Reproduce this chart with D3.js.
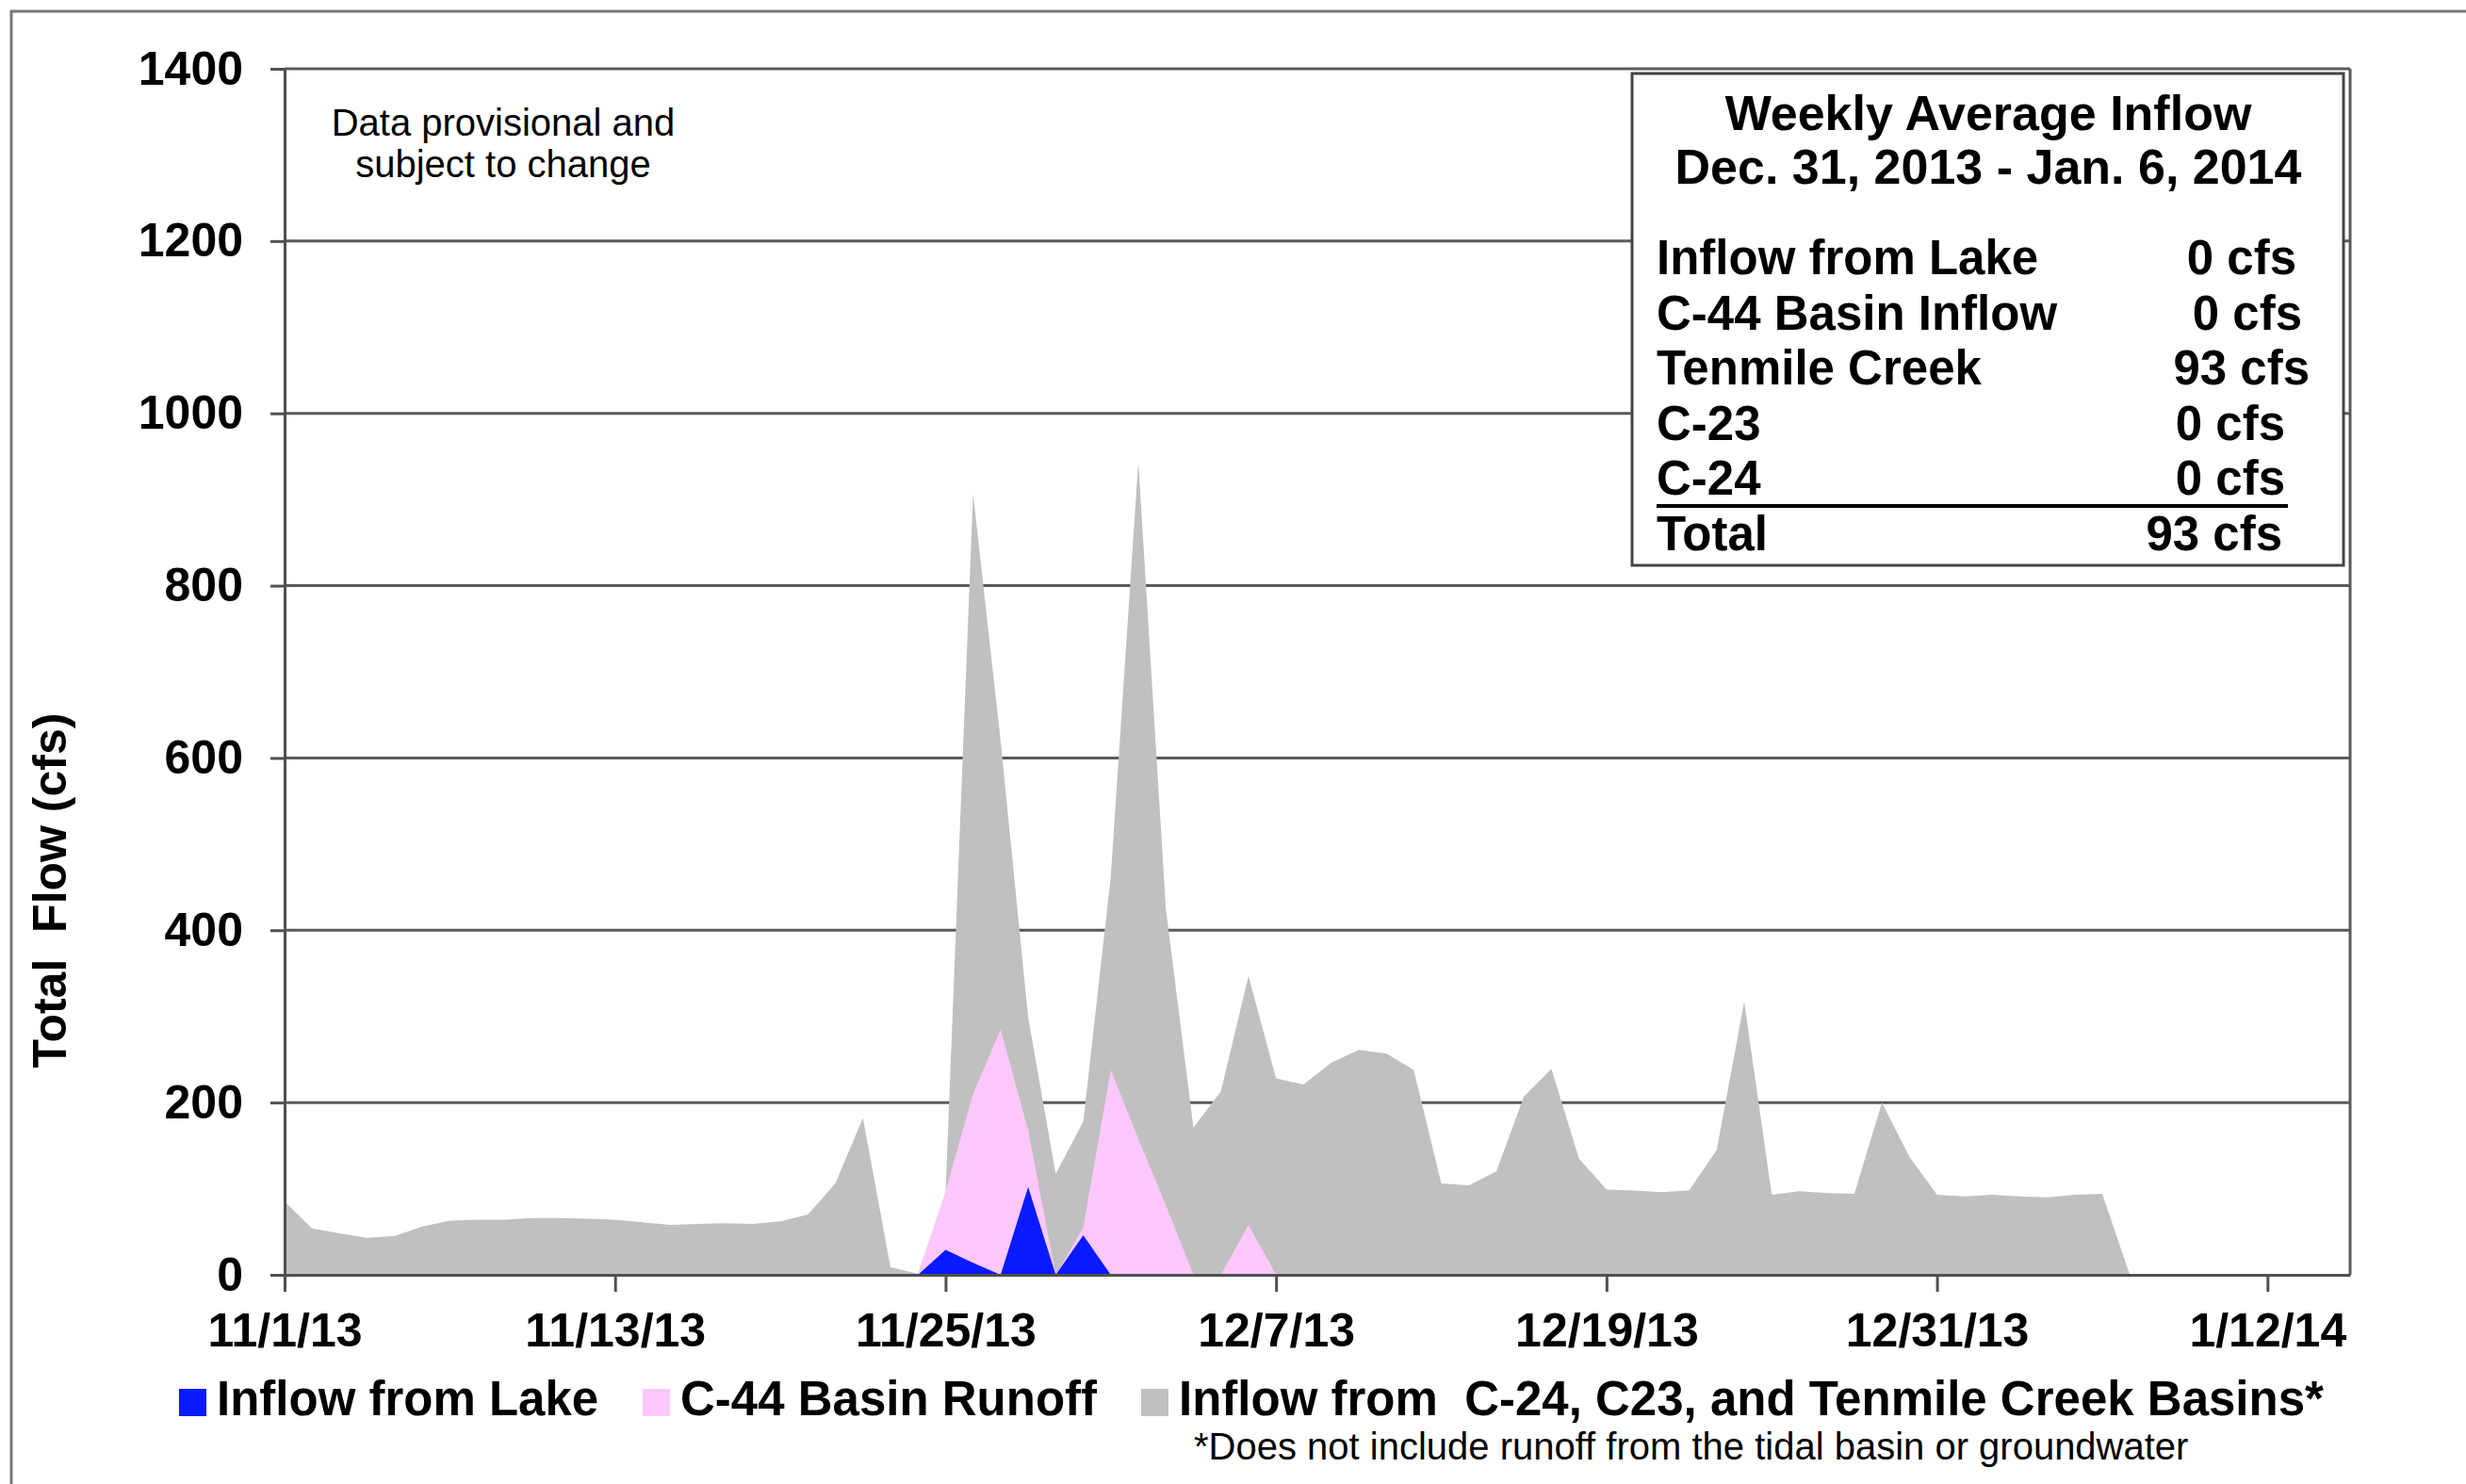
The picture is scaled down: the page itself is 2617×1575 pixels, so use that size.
<!DOCTYPE html>
<html>
<head>
<meta charset="utf-8">
<script src="https://d3js.org/d3.v7.min.js"></script>
<style>
  body { margin: 0; background: #fff; }
  svg { display: block; font-family: "Liberation Sans", Arial, sans-serif; }
</style>
</head>
<body>
<div id="chart"></div>
<script>
// daily values, 11/1/13 .. 1/15/14
var startDate = "2013-11-01";
var endDate = "2014-01-15";
var tickLabels = ["11/1/13", "11/13/13", "11/25/13", "12/7/13", "12/19/13", "12/31/13", "1/12/14"];
var yTicks = [0, 200, 400, 600, 800, 1000, 1200, 1400];

var basinInflow = [85, 54, 48, 43, 45, 56, 63, 64, 64, 66,
                   66, 65, 64, 61, 58, 59, 60, 59, 62, 70,
                   106, 182, 9, 1, 95, 907, 620, 299, 117, 178,
                   462, 944, 425, 171, 213, 347, 228, 221, 246, 261,
                   257, 238, 106, 104, 120, 207, 239, 135, 99, 98,
                   96, 98, 145, 317, 93, 97, 95, 94, 200, 137,
                   93, 91, 93, 91, 90, 93, 94, 0, 0, 0,
                   0, 0, 0, 0, 0, 0];
var c44Runoff = [0, 0, 0, 0, 0, 0, 0, 0, 0, 0,
                 0, 0, 0, 0, 0, 0, 0, 0, 0, 0,
                 0, 0, 0, 0, 97, 210, 285, 168, 0, 55,
                 238, 158, 81, 0, 0, 58, 0, 0, 0, 0,
                 0, 0, 0, 0, 0, 0, 0, 0, 0, 0,
                 0, 0, 0, 0, 0, 0, 0, 0, 0, 0,
                 0, 0, 0, 0, 0, 0, 0, 0, 0, 0,
                 0, 0, 0, 0, 0, 0];
var lakeInflow = [0, 0, 0, 0, 0, 0, 0, 0, 0, 0,
                  0, 0, 0, 0, 0, 0, 0, 0, 0, 0,
                  0, 0, 0, 0, 29, 14, 0, 102, 0, 46,
                  0, 0, 0, 0, 0, 0, 0, 0, 0, 0,
                  0, 0, 0, 0, 0, 0, 0, 0, 0, 0,
                  0, 0, 0, 0, 0, 0, 0, 0, 0, 0,
                  0, 0, 0, 0, 0, 0, 0, 0, 0, 0,
                  0, 0, 0, 0, 0, 0];

var seriesNames = ["Inflow from Lake", "C-44 Basin Runoff", "Inflow from  C-24, C23, and Tenmile Creek Basins*"];
var seriesColors = ["#0a1aff", "#fcc8fc", "#c0c0c0"];

var summaryTitle = ["Weekly Average Inflow", "Dec. 31, 2013 - Jan. 6, 2014"];
var summaryLabels = ["Inflow from Lake", "C-44 Basin Inflow", "Tenmile Creek", "C-23", "C-24", "Total"];
var summaryValues = [0, 0, 93, 0, 0, 93];

var W = 2617, H = 1575;
var margin = {top: 73, right: 123, bottom: 222, left: 302},
    width = W - margin.left - margin.right,
    height = H - margin.top - margin.bottom;

var svg = d3.select("#chart").append("svg")
    .attr("width", W)
    .attr("height", H);

// outer frame (cut off at right / bottom like the picture)
svg.append("rect")
  .attr("x", 12).attr("y", 12)
  .attr("width", W + 40).attr("height", H + 40)
  .attr("fill", "none")
  .attr("stroke", "#777")
  .attr("stroke-width", 3);

var g = svg.append("g")
  .attr("transform", "translate(" + margin.left + "," + margin.top + ")");

var parse = d3.utcParse("%Y-%m-%d");
var parseTick = d3.utcParse("%m/%d/%y");
var t0 = parse(startDate);
var dates = basinInflow.map(function(d, i) { return d3.utcDay.offset(t0, i); });

var x = d3.scaleUtc()
  .domain([t0, parse(endDate)])
  .range([0, width]);

var y = d3.scaleLinear()
  .domain([0, 1400])
  .range([height, 0]);

// gridlines
g.append("g")
  .selectAll("line")
  .data(yTicks.slice(1))
  .enter().append("line")
    .attr("x1", 0).attr("x2", width)
    .attr("y1", function(d) { return y(d); })
    .attr("y2", function(d) { return y(d); })
    .attr("stroke", "#5a5a5a")
    .attr("stroke-width", 3);

// areas: gray behind, pink, then blue on top
var area = d3.area()
  .x(function(d) { return x(d.date); })
  .y0(y(0))
  .y1(function(d) { return y(d.value); });

[basinInflow, c44Runoff, lakeInflow].forEach(function(vals, k) {
  var rows = vals.map(function(v, i) { return {date: dates[i], value: v}; });
  g.append("path")
    .datum(rows)
    .attr("fill", seriesColors[2 - k])
    .attr("d", area);
});

// right border of plot
g.append("line")
  .attr("x1", width).attr("x2", width)
  .attr("y1", 0).attr("y2", height)
  .attr("stroke", "#5a5a5a")
  .attr("stroke-width", 3);

// Y axis
var yAxis = g.append("g")
  .call(d3.axisLeft(y)
    .tickValues(yTicks)
    .tickSize(15)
    .tickSizeOuter(0)
    .tickPadding(29)
    .tickFormat(d3.format("d")));
yAxis.selectAll("text")
  .attr("font-size", 50)
  .attr("font-weight", "bold")
  .attr("font-family", "Liberation Sans, Arial, sans-serif")
  .attr("fill", "#000");

// X axis
var tickDates = tickLabels.map(function(s) { return parseTick(s); });
var xAxis = g.append("g")
  .attr("transform", "translate(0," + height + ")")
  .call(d3.axisBottom(x)
    .tickValues(tickDates)
    .tickSize(18)
    .tickSizeOuter(0)
    .tickPadding(22)
    .tickFormat(function(d, i) { return tickLabels[i]; }));
xAxis.selectAll("text")
  .attr("font-size", 50)
  .attr("font-weight", "bold")
  .attr("font-family", "Liberation Sans, Arial, sans-serif")
  .attr("fill", "#000");

[yAxis, xAxis].forEach(function(a) {
  a.select(".domain").attr("stroke", "#505050").attr("stroke-width", 3);
  a.selectAll(".tick line").attr("stroke", "#505050").attr("stroke-width", 3);
});

// y axis title
svg.append("text")
  .attr("transform", "translate(70,945) rotate(-90)")
  .attr("text-anchor", "middle")
  .attr("font-size", 50)
  .attr("font-weight", "bold")
  .style("white-space", "pre")
  .text("Total  Flow (cfs)");

// provisional note
svg.append("text")
  .attr("x", 534).attr("y", 144)
  .attr("text-anchor", "middle")
  .attr("font-size", 40)
  .text("Data provisional and");
svg.append("text")
  .attr("x", 534).attr("y", 188)
  .attr("text-anchor", "middle")
  .attr("font-size", 40)
  .text("subject to change");

// summary box
var box = svg.append("g");
box.append("rect")
  .attr("x", 1732).attr("y", 78)
  .attr("width", 755).attr("height", 522)
  .attr("fill", "#fff")
  .attr("stroke", "#444")
  .attr("stroke-width", 3);
summaryTitle.forEach(function(s, i) {
  box.append("text")
    .attr("x", 2110).attr("y", 138 + i * 57)
    .attr("text-anchor", "middle")
    .attr("font-size", 52)
    .attr("font-weight", "bold")
    .text(s);
});
var valueRight = [2437, 2443, 2451, 2425, 2425, 2422];
summaryLabels.forEach(function(s, i) {
  var by = 291 + i * 58.6;
  box.append("text")
    .attr("x", 1758).attr("y", by)
    .attr("font-size", 51)
    .attr("font-weight", "bold")
    .text(s);
  box.append("text")
    .attr("x", valueRight[i]).attr("y", by)
    .attr("text-anchor", "end")
    .attr("font-size", 51)
    .attr("font-weight", "bold")
    .text(summaryValues[i] + " cfs");
});
box.append("line")
  .attr("x1", 1758).attr("x2", 2428)
  .attr("y1", 537).attr("y2", 537)
  .attr("stroke", "#000")
  .attr("stroke-width", 4);

// legend
var legendX = [190, 682, 1211];
var legend = svg.append("g");
seriesNames.forEach(function(name, i) {
  legend.append("rect")
    .attr("x", legendX[i]).attr("y", 1474)
    .attr("width", 29).attr("height", 29)
    .attr("fill", seriesColors[i]);
  legend.append("text")
    .attr("x", legendX[i] + 40).attr("y", 1502)
    .attr("font-size", 51)
    .attr("font-weight", "bold")
    .style("white-space", "pre")
    .text(name);
});
legend.append("text")
  .attr("x", 1267).attr("y", 1549)
  .attr("font-size", 40)
  .text("*Does not include runoff from the tidal basin or groundwater");
</script>
</body>
</html>
